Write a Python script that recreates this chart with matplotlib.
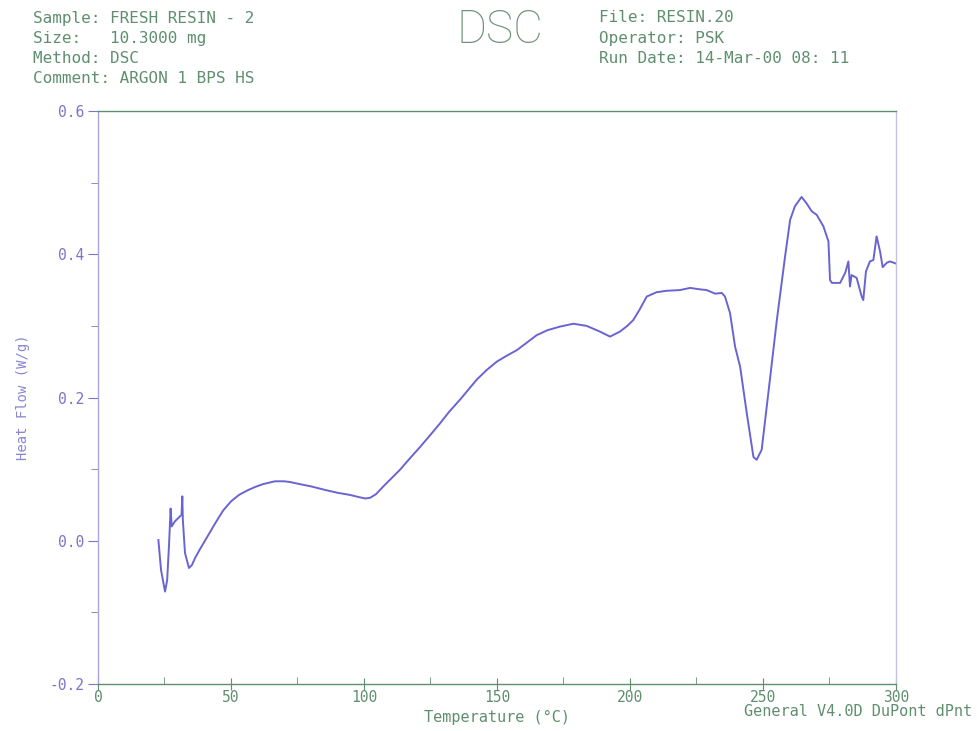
import matplotlib
matplotlib.use("Agg")
import matplotlib.pyplot as plt
from matplotlib.ticker import MultipleLocator

# DSC trace: temperature (°C) and heat flow (W/g)
temperature = [
    22.7, 23.7, 25.2, 26.0, 26.7, 27.3, 27.7, 28.9, 30.8, 31.4, 31.7, 31.9,
    32.7, 34.2, 35.3, 36.5, 38.3, 41.0, 44.0, 47.0, 50.0, 53.0, 56.0, 59.0,
    62.0, 66.5, 70.0, 72.2, 75.9, 80.0, 85.3, 90.0, 94.7, 98.0, 100.5, 102.3,
    104.5, 107.3, 110.0, 113.5, 117.0, 121.1, 125.0, 128.6, 132.0, 136.1,
    142.4, 146.0, 149.9, 153.5, 157.4, 161.0, 164.9, 169.0, 173.7, 178.7,
    183.7, 188.7, 192.5, 196.2, 199.0, 201.2, 203.5, 206.3, 210.0, 213.8,
    218.8, 222.6, 226.3, 228.8, 232.0, 234.5, 235.7, 237.6, 239.5, 241.4,
    243.9, 246.4, 247.6, 249.5, 252.6, 255.2, 258.3, 260.2, 262.0, 264.5,
    266.4, 268.3, 270.2, 272.7, 274.6, 275.2, 275.9, 279.0, 280.9, 282.1,
    282.7, 283.3, 285.2, 287.1, 287.7, 288.7, 290.2, 291.5, 292.7, 294.0,
    295.0, 296.5, 297.7, 300.0,
]
heat_flow = [
    0.001, -0.041, -0.071, -0.055, -0.006, 0.045, 0.020, 0.027, 0.034, 0.036,
    0.062, 0.029, -0.017, -0.038, -0.034, -0.024, -0.012, 0.005, 0.024, 0.042,
    0.055, 0.064, 0.070, 0.075, 0.079, 0.083, 0.083, 0.082, 0.079, 0.076,
    0.071, 0.067, 0.064, 0.061, 0.059, 0.060, 0.065, 0.076, 0.086, 0.099,
    0.114, 0.131, 0.148, 0.164, 0.180, 0.197, 0.225, 0.238, 0.250, 0.258,
    0.266, 0.276, 0.287, 0.294, 0.299, 0.303, 0.300, 0.292, 0.285, 0.292,
    0.300, 0.308, 0.322, 0.341, 0.347, 0.349, 0.350, 0.353, 0.351, 0.350,
    0.345, 0.346, 0.341, 0.318, 0.271, 0.243, 0.178, 0.117, 0.113, 0.127,
    0.225, 0.308, 0.397, 0.448, 0.467, 0.480, 0.471, 0.460, 0.455, 0.439,
    0.418, 0.364, 0.360, 0.360, 0.374, 0.390, 0.355, 0.371, 0.367, 0.341,
    0.336, 0.376, 0.390, 0.392, 0.425, 0.404, 0.382, 0.388, 0.390, 0.387,
]

x_ticks = [0, 50, 100, 150, 200, 250, 300]
y_ticks = [-0.2, 0.0, 0.2, 0.4, 0.6]

header_left = [
    "Sample: FRESH RESIN - 2",
    "Size:   10.3000 mg",
    "Method: DSC",
    "Comment: ARGON 1 BPS HS",
]
header_right = [
    "File: RESIN.20",
    "Operator: PSK",
    "Run Date: 14-Mar-00 08: 11",
]

GREEN = "#5f8f6f"
PURPLE = "#7b74cc"
LINE = "#6a64d2"
MONO = "DejaVu Sans Mono"

fig = plt.figure(figsize=(9.78, 7.31), dpi=100)
ax = fig.add_axes([98 / 978, 1 - 684 / 731, (896 - 98) / 978, (684 - 111) / 731])

ax.plot(temperature, heat_flow, color=LINE, linewidth=1.4)

ax.set_xlim(0, 300)
ax.set_ylim(-0.2, 0.6)
ax.set_xticks(x_ticks)
ax.set_yticks(y_ticks)
ax.set_xticklabels([str(v) for v in x_ticks], fontfamily=MONO, fontsize=10.5, color=GREEN)
ax.set_yticklabels([f"{v:.1f}" for v in y_ticks], fontfamily=MONO, fontsize=10.5, color=PURPLE)
ax.xaxis.set_minor_locator(MultipleLocator(25))
ax.yaxis.set_minor_locator(MultipleLocator(0.1))

ax.tick_params(axis="x", which="major", direction="inout", length=8, color=GREEN, pad=0)
ax.tick_params(axis="x", which="minor", direction="in", length=5, color=GREEN)
ax.tick_params(axis="y", which="major", direction="out", length=7, color=PURPLE, pad=3)
ax.tick_params(axis="y", which="minor", direction="out", length=5, color=PURPLE)

ax.spines["left"].set_color("#a9a6dc")
ax.spines["right"].set_color("#c4c2e0")
for side in ("top", "bottom"):
    ax.spines[side].set_color(GREEN)
for side in ax.spines:
    ax.spines[side].set_linewidth(1.0)

ax.set_xlabel("Temperature (°C)", fontfamily=MONO, fontsize=11, color=GREEN, labelpad=4)
ax.set_ylabel("Heat Flow (W/g)", fontfamily=MONO, fontsize=10, color="#8a86d4", labelpad=14)

# header block
for i, line in enumerate(header_left):
    fig.text(33 / 978, 1 - (18 + 20.3 * i) / 731, line, fontfamily=MONO, fontsize=11.5,
             color=GREEN, ha="left", va="center")
for i, line in enumerate(header_right):
    fig.text(599 / 978, 1 - (18 + 20.3 * i) / 731, line, fontfamily=MONO, fontsize=11.5,
             color=GREEN, ha="left", va="center")
fig.text(500 / 978, 1 - 30 / 731, "DSC", fontfamily=["Roboto", "DejaVu Sans"], fontweight="light",
         fontsize=33, color="#6f9179", ha="center", va="center")

fig.text(972 / 978, 1 - 712 / 731, "General V4.0D DuPont dPnt", fontfamily=MONO,
         fontsize=11, color=GREEN, ha="right", va="center")

fig.savefig("out.png", dpi=100, facecolor="white")
